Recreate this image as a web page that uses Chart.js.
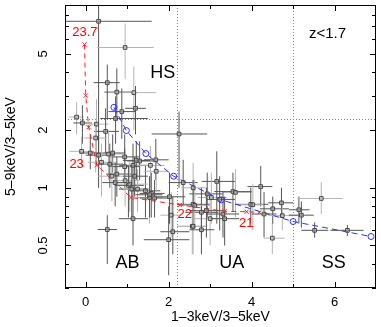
<!DOCTYPE html>
<html>
<head>
<meta charset="utf-8">
<script src="https://cdn.jsdelivr.net/npm/chart.js@4/dist/chart.umd.min.js"></script>
<style>
  html, body { margin: 0; padding: 0; background: #fff; }
</style>
</head>
<body>
<canvas id="colours" width="381" height="327"></canvas>
<script>
// sources: hard colour (5-9/3-5) vs soft colour (1-3/3-5) with error ranges
const srcX   = [0.31, 0.95, 0.52, 0.75, 1.16, 0.87, 1.20, -0.22, -0.08, 0.72, 0.26, 0.48, 2.25, 0.24, 0.11, 0.31, 0.55, 0.65, 0.94, 0.38,
                1.14, 1.30, 1.56, 1.69, 0.94, 0.63, 0.75, 0.71, 0.95, 1.03, 1.11, 1.25, 1.44, 1.58, 1.54, 1.66, 2.02, 2.06, 2.10, 2.00,
                2.57, 1.14, 0.52, 1.06, 0.58, 2.35, 2.59, 3.16, 2.93, 3.03, 3.23, 3.55, 3.61, 4.22, 3.98, 4.03, 2.59, 2.79, 3.00, 3.31,
                3.35, 2.59, 2.79, 4.30, 4.50, 4.51, 4.72, 4.74, 5.14, 5.20, 5.68, 5.52, 6.31, 1.70, 1.18, 1.22, 2.63, 2.91, 1.54, -0.10];
const srcY   = [7.40, 5.40, 3.54, 3.16, 3.14, 2.50, 2.60, 2.34, 2.18, 2.30, 2.15, 1.97, 1.91, 1.82, 1.52, 1.48, 1.50, 1.52, 1.45, 1.36,
                1.31, 1.38, 1.31, 1.40, 1.29, 1.15, 1.18, 1.065, 1.09, 1.03, 0.985, 0.985, 0.965, 0.935, 0.89, 0.884, 0.898, 0.72, 0.59, 0.536,
                0.63, 0.69, 0.606, 1.045, 1.33, 1.065, 1.00, 1.08, 0.93, 0.89, 0.87, 0.956, 0.946, 1.015, 0.82, 0.816, 0.82, 0.745, 0.69, 0.73,
                0.69, 0.63, 0.604, 0.73, 0.546, 0.777, 0.835, 0.716, 0.768, 0.72, 0.88, 0.60, 0.60, 1.22, 1.15, 1.39, 0.81, 0.76, 0.92, 1.55];
const srcXlo = [-0.50, 0.27, 0.19, 0.45, 0.60, 0.55, 0.95, -0.40, -0.30, 0.35, 0.05, 0.20, 1.59, -0.05, -0.15, 0.00, 0.30, 0.40, 0.60, 0.05,
                0.80, 1.00, 1.20, 1.40, 0.60, 0.30, 0.50, 0.40, 0.65, 0.70, 0.80, 0.90, 1.10, 1.30, 1.20, 1.30, 1.70, 1.80, 1.80, 1.40,
                2.20, 0.80, 0.29, 0.70, 0.30, 2.00, 2.30, 2.80, 2.50, 2.70, 2.90, 3.10, 3.30, 3.90, 3.60, 3.70, 2.20, 2.40, 2.60, 2.90,
                3.00, 2.20, 2.50, 4.00, 4.30, 4.20, 4.40, 4.40, 4.90, 4.90, 5.10, 5.20, 5.90, 1.40, 0.90, 0.90, 2.30, 2.50, 1.20, -0.40];
const srcXhi = [1.59, 1.64, 0.82, 1.10, 1.70, 1.20, 1.45, -0.05, 0.15, 1.50, 0.55, 0.80, 2.93, 0.50, 0.40, 0.70, 0.90, 0.95, 1.30, 0.75,
                1.50, 1.70, 1.90, 2.00, 1.30, 0.95, 1.10, 1.00, 1.30, 1.40, 1.50, 1.60, 1.80, 1.90, 1.85, 2.00, 2.40, 2.30, 2.50, 2.50,
                2.90, 1.50, 0.75, 1.50, 0.90, 2.70, 2.90, 3.60, 3.30, 3.40, 3.60, 4.00, 4.00, 4.50, 4.40, 4.30, 3.00, 3.20, 3.40, 3.70,
                3.70, 2.90, 3.10, 4.60, 4.80, 4.90, 5.00, 5.10, 5.40, 5.50, 6.20, 5.85, 6.70, 2.00, 1.50, 1.55, 3.00, 3.30, 1.85, 0.20];
const srcYlo = [1.30, 3.70, 2.30, 2.30, 2.00, 1.80, 1.90, 1.90, 1.70, 1.70, 1.30, 1.50, 1.00, 1.20, 1.25, 1.00, 1.10, 1.20, 1.10, 0.90,
                1.00, 1.10, 1.00, 1.10, 1.00, 0.85, 0.90, 0.80, 0.80, 0.70, 0.70, 0.75, 0.70, 0.70, 0.65, 0.70, 0.65, 0.55, 0.45, 0.35,
                0.45, 0.50, 0.40, 0.75, 1.00, 0.80, 0.75, 0.65, 0.70, 0.65, 0.60, 0.75, 0.70, 0.80, 0.65, 0.60, 0.60, 0.55, 0.50, 0.55,
                0.50, 0.45, 0.45, 0.55, 0.45, 0.65, 0.70, 0.60, 0.65, 0.62, 0.73, 0.55, 0.56, 0.95, 0.90, 1.10, 0.60, 0.55, 0.70, 1.30];
const srcYhi = [9.00, 7.20, 4.40, 4.20, 4.30, 3.30, 3.40, 2.80, 2.70, 3.00, 2.90, 2.60, 2.50, 2.20, 1.90, 2.00, 2.00, 1.90, 1.90, 1.70,
                1.70, 1.75, 1.65, 1.80, 1.60, 1.50, 1.45, 1.35, 1.40, 1.30, 1.30, 1.25, 1.30, 1.20, 1.15, 1.10, 1.20, 0.95, 0.90, 0.80,
                0.85, 1.00, 0.72, 1.40, 1.70, 1.40, 1.35, 1.55, 1.20, 1.20, 1.15, 1.20, 1.25, 1.30, 1.00, 1.05, 1.10, 1.00, 0.95, 0.95,
                0.90, 0.85, 0.80, 0.95, 0.66, 0.90, 1.00, 0.85, 0.90, 0.85, 1.07, 0.66, 0.64, 1.55, 1.45, 1.75, 1.10, 1.00, 1.15, 1.85];

// absorbed power law track (log NH 23.7 ... 21)
const nhX = [-0.03, 0.00, 0.07, 0.27, 1.09, 2.27, 3.35, 3.88, 4.19];
const nhY = [5.60, 3.03, 2.07, 1.31, 0.89, 0.814, 0.755, 0.75, 0.745];
const nhText = ['23.7', '23', '22', '21'];
const nhTextX = [-0.02, -0.22, 2.39, 3.87];
const nhTextY = [6.5, 1.32, 0.725, 0.649];

// unabsorbed power law track
const plX = [0.68, 0.98, 1.45, 2.12, 3.27, 5.00, 6.88];
const plY = [2.63, 1.99, 1.51, 1.15, 0.865, 0.667, 0.557];

// region boundaries and names
const guideX = [2.2, 5.0];
const guideY = [2.3];
const regionText = ['HS', 'AB', 'UA', 'SS', 'z<1.7'];
const regionX = [1.86, 1.01, 3.52, 5.98, 5.83];
const regionY = [3.95, 0.404, 0.404, 0.404, 6.35];

// axes
const xMin = -0.5, xMax = 7;
const yMin = 0.3, yMax = 9;
const xMajor = [0, 2, 4, 6];
const xMinor = [1, 3, 5];
const yMajor = [0.5, 1, 2, 5];
const yMinor = [0.3, 0.4, 0.6, 0.7, 0.8, 0.9, 3, 4, 6, 7, 8, 9];

const FONT = "'Liberation Sans', Arial, sans-serif";

const decor = {
  id: 'decor',
  beforeDatasetsDraw(chart) {
    const {ctx, chartArea: a, scales: {x, y}} = chart;
    ctx.save();
    ctx.beginPath();
    ctx.rect(a.left, a.top, a.right - a.left, a.bottom - a.top);
    ctx.clip();
    // dotted region lines
    ctx.strokeStyle = '#888';
    ctx.lineWidth = 1;
    ctx.setLineDash([1, 2]);
    guideX.forEach(v => {
      const px = Math.round(x.getPixelForValue(v)) + 0.5;
      ctx.beginPath(); ctx.moveTo(px, a.top); ctx.lineTo(px, a.bottom); ctx.stroke();
    });
    guideY.forEach(v => {
      const py = Math.round(y.getPixelForValue(v)) + 0.5;
      ctx.beginPath(); ctx.moveTo(a.left, py); ctx.lineTo(a.right, py); ctx.stroke();
    });
    // error bars
    ctx.setLineDash([]);
    for (let i = 0; i < srcX.length; i++) {
      ctx.strokeStyle = (i % 3 === 1) ? '#b4b4b4' : '#555';
      const px = x.getPixelForValue(srcX[i]);
      const py = y.getPixelForValue(srcY[i]);
      ctx.beginPath();
      ctx.moveTo(x.getPixelForValue(srcXlo[i]), py);
      ctx.lineTo(x.getPixelForValue(srcXhi[i]), py);
      ctx.moveTo(px, y.getPixelForValue(srcYlo[i]));
      ctx.lineTo(px, y.getPixelForValue(srcYhi[i]));
      ctx.stroke();
    }
    ctx.restore();
  },
  afterDraw(chart) {
    const {ctx, chartArea: a, scales: {x, y}} = chart;
    ctx.save();
    ctx.strokeStyle = '#000';
    ctx.lineWidth = 1;
    ctx.strokeRect(a.left + 0.5, a.top + 0.5, a.right - a.left - 1, a.bottom - a.top - 1);
    // inward ticks on all four sides
    ctx.beginPath();
    const xt = (v, len) => {
      const px = Math.round(x.getPixelForValue(v)) + 0.5;
      ctx.moveTo(px, a.bottom); ctx.lineTo(px, a.bottom - len);
      ctx.moveTo(px, a.top); ctx.lineTo(px, a.top + len);
    };
    const yt = (v, len) => {
      const py = Math.round(y.getPixelForValue(v)) + 0.5;
      ctx.moveTo(a.left, py); ctx.lineTo(a.left + len, py);
      ctx.moveTo(a.right, py); ctx.lineTo(a.right - len, py);
    };
    xMajor.forEach(v => xt(v, 6));
    xMinor.forEach(v => xt(v, 4));
    yMajor.forEach(v => yt(v, 6));
    yMinor.forEach(v => yt(v, 4));
    ctx.stroke();
    // rotated y tick labels
    ctx.fillStyle = '#000';
    ctx.font = '13px ' + FONT;
    ctx.textAlign = 'center';
    ctx.textBaseline = 'middle';
    yMajor.forEach(v => {
      ctx.save();
      ctx.translate(43, y.getPixelForValue(v));
      ctx.rotate(-Math.PI / 2);
      ctx.fillText(String(v), 0, 0);
      ctx.restore();
    });
    // region names
    regionText.forEach((t, i) => {
      ctx.font = (t === 'z<1.7' ? '15px ' : '18px ') + FONT;
      ctx.fillText(t, x.getPixelForValue(regionX[i]), y.getPixelForValue(regionY[i]));
    });
    // NH labels
    ctx.fillStyle = '#ff0000';
    ctx.font = '13px ' + FONT;
    nhText.forEach((t, i) => {
      ctx.fillText(t, x.getPixelForValue(nhTextX[i]), y.getPixelForValue(nhTextY[i]));
    });
    ctx.restore();
  }
};

const ctx = document.getElementById('colours').getContext('2d');
const chart = new Chart(ctx, {
  type: 'scatter',
  data: {
    datasets: [{
      label: 'sources',
      data: srcX.map((v, i) => ({x: v, y: srcY[i]})),
      pointStyle: 'rect',
      pointRadius: 2.6,
      borderWidth: 1,
      borderColor: '#484848',
      backgroundColor: 'rgba(190,190,190,0.5)',
      showLine: false
    }, {
      label: 'absorbed',
      data: nhX.map((v, i) => ({x: v, y: nhY[i]})),
      pointStyle: 'crossRot',
      pointRadius: 3,
      pointBorderWidth: 1,
      borderColor: '#ff2020',
      backgroundColor: '#ff2020',
      borderWidth: 1,
      borderDash: [5, 4],
      showLine: true
    }, {
      label: 'power law',
      data: plX.map((v, i) => ({x: v, y: plY[i]})),
      pointStyle: 'circle',
      pointRadius: 3,
      pointBorderWidth: 1,
      borderColor: '#3030ff',
      backgroundColor: 'rgba(0,0,0,0)',
      borderWidth: 1,
      borderDash: [6, 4],
      showLine: true
    }]
  },
  options: {
    responsive: false,
    animation: false,
    layout: { padding: {top: 3, right: 4, bottom: 0, left: 0} },
    plugins: {
      legend: { display: false },
      tooltip: { enabled: false }
    },
    scales: {
      x: {
        type: 'linear',
        min: xMin,
        max: xMax,
        grid: { display: false, drawTicks: false },
        border: { display: false },
        ticks: {
          stepSize: 2,
          includeBounds: false,
          color: '#000',
          padding: 7,
          maxRotation: 0,
          font: { family: FONT, size: 13 }
        },
        title: {
          display: true,
          text: '1–3keV/3–5keV',
          color: '#000',
          font: { family: FONT, size: 14 },
          padding: {top: 0, bottom: 1}
        },
        afterFit(s) { s.height = 39; }
      },
      y: {
        type: 'logarithmic',
        min: yMin,
        max: yMax,
        grid: { display: false, drawTicks: false },
        border: { display: false },
        ticks: { display: false },
        title: {
          display: true,
          text: '5–9keV/3–5keV',
          color: '#000',
          font: { family: FONT, size: 14 },
          padding: {top: 3, bottom: 0}
        },
        afterFit(s) { s.width = 65; }
      }
    }
  },
  plugins: [decor]
});
</script>
</body>
</html>
